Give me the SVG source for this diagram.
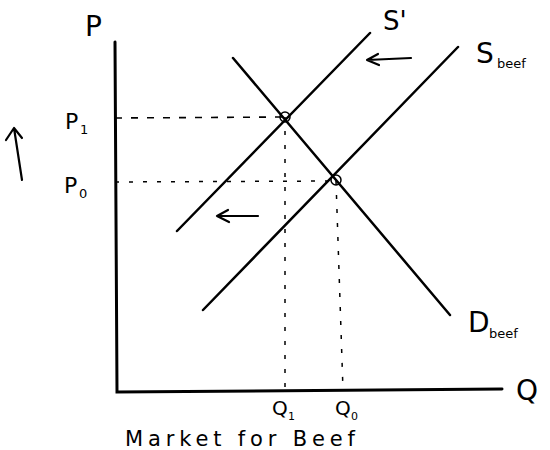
<svg xmlns="http://www.w3.org/2000/svg" width="550" height="450" viewBox="0 0 550 450">
<style>
.ln{stroke:#000;stroke-width:2.5;fill:none;stroke-linecap:round}
.ax{stroke:#000;stroke-width:3;fill:none;stroke-linecap:round}
.ds{stroke:#000;stroke-width:1.6;fill:none;stroke-dasharray:7 9}
.dt{stroke:#000;stroke-width:1.5;fill:none;stroke-dasharray:4 10}
.t{font-family:"DejaVu Sans","Liberation Sans",sans-serif;fill:#000}
.arr{stroke:#000;stroke-width:2.2;fill:none;stroke-linecap:round;stroke-linejoin:round}
</style>
<rect width="550" height="450" fill="#fff"/>
<g id="axes">
<path class="ax" d="M115,42 L117,392 L502,389"/>
<text class="t" x="85" y="36" font-size="28">P</text>
<text class="t" x="516" y="400" font-size="28">Q</text>
</g>
<g id="connectors">
<path class="ds" d="M115,118 L285,117"/>
<path class="dt" d="M115,182 L336,181"/>
<path class="dt" d="M285,117 L285,390"/>
<path class="dt" d="M336,181 L343,390"/>
</g>
<g id="demand">
<path class="ln" d="M233,58 L450,315"/>
<text class="t" x="468" y="332" font-size="28">D</text>
<text class="t" x="489" y="338" font-size="13">beef</text>
</g>
<g id="supply-new">
<path class="ln" d="M177,231 L370,33"/>
<text class="t" x="383" y="30" font-size="26">S'</text>
</g>
<g id="supply">
<path class="ln" d="M203,310 L458,47"/>
<text class="t" x="476" y="63" font-size="28">S</text>
<text class="t" x="497" y="68" font-size="13">beef</text>
</g>
<g id="eq1"><circle cx="285" cy="117" r="5" fill="none" stroke="#000" stroke-width="1.5"/></g>
<g id="eq0"><circle cx="336" cy="180" r="5" fill="none" stroke="#000" stroke-width="1.5"/></g>
<g id="labels">
<text class="t" x="65" y="129" font-size="22">P</text>
<text class="t" x="80" y="134" font-size="13">1</text>
<text class="t" x="64" y="193" font-size="22">P</text>
<text class="t" x="79" y="198" font-size="13">0</text>
<text class="t" x="272" y="415" font-size="20">Q</text>
<text class="t" x="288" y="420" font-size="11">1</text>
<text class="t" x="335" y="415" font-size="20">Q</text>
<text class="t" x="351" y="420" font-size="11">0</text>
<text class="t" x="125" y="446" font-size="21" textLength="230" lengthAdjust="spacing">Market for Beef</text>
</g>
<g id="arrows">
<path class="arr" d="M22,180 L14,128 M6,140 L14,128 L22,138"/>
<path class="arr" d="M258,216 L217,216 M228,210 L217,216 L229,222"/>
<path class="arr" d="M411,58 L367,60 M378,54 L367,60 L379,65"/>
</g>
</svg>
